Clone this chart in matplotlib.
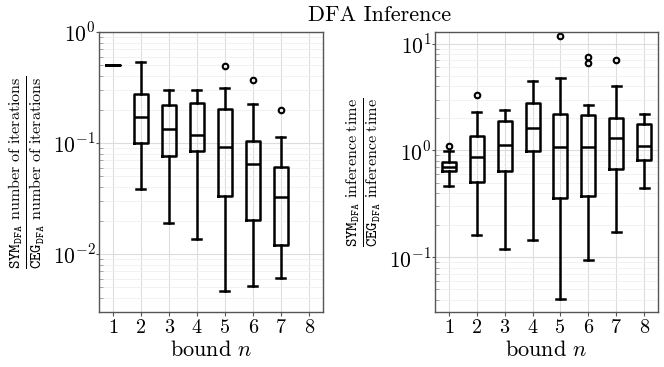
import matplotlib
matplotlib.use("Agg")
import matplotlib.pyplot as plt
from matplotlib.ticker import FuncFormatter, LogLocator, NullFormatter
import numpy as np

plt.rcParams.update({
    "font.family": "serif",
    "font.serif": ["cmr10"],
    "mathtext.fontset": "cm",
    "axes.unicode_minus": False,
})

# ---------------- data ----------------
bounds = [1, 2, 3, 4, 5, 6, 7, 8]

# Left: ratio of number of iterations (bound 8 has no data)
iter_pos = [1, 2, 3, 4, 5, 6, 7]
iter_whislo = [0.50, 0.0386, 0.0191, 0.0136, 0.00461, 0.00519, 0.00608]
iter_q1 = [0.50, 0.100, 0.0758, 0.0847, 0.0331, 0.0202, 0.01205]
iter_med = [0.50, 0.171, 0.1346, 0.117, 0.0914, 0.0647, 0.0324]
iter_q3 = [0.50, 0.278, 0.220, 0.2277, 0.202, 0.105, 0.0608]
iter_whishi = [0.50, 0.537, 0.302, 0.298, 0.313, 0.2246, 0.1125]
iter_fliers = [[], [], [], [], [0.497], [0.367], [0.197]]

# Right: ratio of inference time
time_pos = [1, 2, 3, 4, 5, 6, 7, 8]
time_whislo = [0.463, 0.163, 0.1197, 0.1465, 0.0404, 0.0937, 0.174, 0.447]
time_q1 = [0.640, 0.512, 0.649, 0.986, 0.357, 0.371, 0.668, 0.812]
time_med = [0.697, 0.866, 1.122, 1.608, 1.067, 1.075, 1.296, 1.09]
time_q3 = [0.777, 1.372, 1.897, 2.80, 2.175, 2.14, 2.01, 1.753]
time_whishi = [0.98, 2.27, 2.42, 4.50, 4.80, 2.66, 4.01, 2.175]
time_fliers = [[1.097], [3.28], [], [], [11.7], [7.55, 6.64], [7.08], []]

title = "DFA Inference"
xlabel = r"bound $n$"
ylabel_left = (r"$\frac{\mathtt{SYM}_{\mathtt{DFA}}\ \mathrm{number\ of\ iterations}}"
               r"{\mathtt{CEG}_{\mathtt{DFA}}\ \mathrm{number\ of\ iterations}}$")
ylabel_right = (r"$\frac{\mathtt{SYM}_{\mathtt{DFA}}\ \mathrm{inference\ time}}"
                r"{\mathtt{CEG}_{\mathtt{DFA}}\ \mathrm{inference\ time}}$")


def make_stats(lo, q1, med, q3, hi, fl):
    return [dict(whislo=a, q1=b, med=c, q3=d, whishi=e, fliers=f)
            for a, b, c, d, e, f in zip(lo, q1, med, q3, hi, fl)]


fig = plt.figure(figsize=(6.64, 3.67), dpi=100)
ax1 = fig.add_axes([0.149, 0.150, 0.337, 0.763])
ax2 = fig.add_axes([0.655, 0.150, 0.336, 0.763])

lw = 1.8
boxprops = dict(color="black", linewidth=lw)
medianprops = dict(color="black", linewidth=lw)
whiskerprops = dict(color="black", linewidth=lw)
capprops = dict(color="black", linewidth=lw)
flierprops = dict(marker="o", markersize=4, markerfacecolor="none",
                  markeredgecolor="black", markeredgewidth=1.5)

fmt = FuncFormatter(lambda v, p: r"$10^{%d}$" % int(round(np.log10(v))))


def style(ax, ylim, ylabel):
    ax.set_yscale("log")
    ax.set_ylim(*ylim)
    ax.set_xlim(0.5, 8.5)
    ax.set_xticks(bounds)
    ax.set_xticklabels([str(b) for b in bounds], fontsize=14.5)
    ax.yaxis.set_major_locator(LogLocator(base=10, numticks=10))
    ax.yaxis.set_major_formatter(fmt)
    ax.yaxis.set_minor_locator(LogLocator(base=10, subs=np.arange(2, 10), numticks=20))
    ax.yaxis.set_minor_formatter(NullFormatter())
    ax.tick_params(axis="y", which="major", labelsize=15.5, length=2, color="#555555", pad=0.5)
    ax.tick_params(axis="y", which="minor", length=3, direction="in", color="#999999")
    ax.tick_params(axis="x", which="major", length=3, color="#555555", pad=2)
    ax.grid(True, which="major", color="#dddddd", linewidth=0.8)
    ax.grid(True, which="minor", axis="y", color="#f0f0f0", linewidth=0.6)
    ax.set_axisbelow(True)
    for s in ax.spines.values():
        s.set_color("#555555")
        s.set_linewidth(1.0)
    ax.set_xlabel(xlabel, fontsize=16, labelpad=2.5)
    ax.set_ylabel(ylabel, fontsize=16.5, labelpad=4)


ax1.bxp(make_stats(iter_whislo, iter_q1, iter_med, iter_q3, iter_whishi, iter_fliers),
        positions=iter_pos, widths=0.5, capwidths=0.32, showfliers=True,
        boxprops=boxprops, medianprops=medianprops, whiskerprops=whiskerprops,
        capprops=capprops, flierprops=flierprops)
ax2.bxp(make_stats(time_whislo, time_q1, time_med, time_q3, time_whishi, time_fliers),
        positions=time_pos, widths=0.5, capwidths=0.32, showfliers=True,
        boxprops=boxprops, medianprops=medianprops, whiskerprops=whiskerprops,
        capprops=capprops, flierprops=flierprops)

style(ax1, (0.0030, 1.0), ylabel_left)
style(ax2, (0.0307, 12.9), ylabel_right)

fig.text(0.572, 1 - 20.7 / 367, title, fontsize=16, ha="center", va="baseline")

fig.savefig("out.png", dpi=100)
